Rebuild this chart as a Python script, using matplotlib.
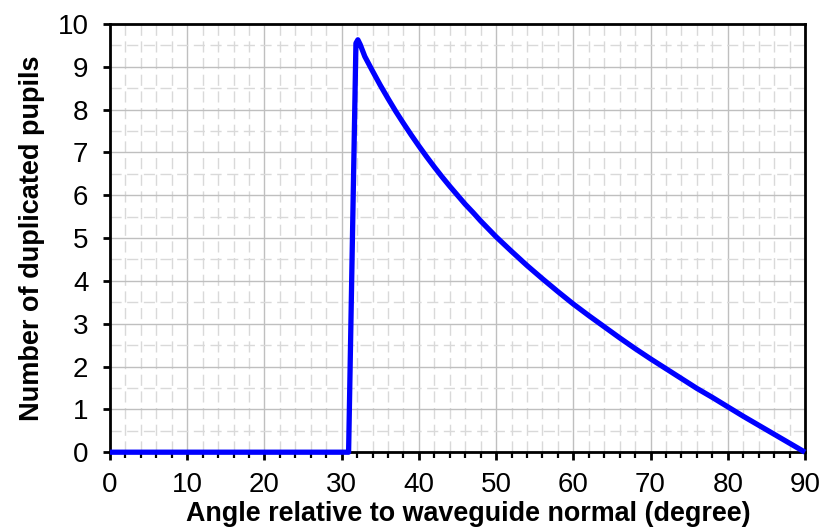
import numpy as np
import matplotlib.pyplot as plt
from matplotlib.ticker import MultipleLocator

# ---------- data ----------
angle = [0, 30.9, 31.85, 32.1, 32.4, 33, 34, 35, 36, 37, 38, 39, 40, 41, 42,
         43, 44, 45, 46, 47, 48, 50, 52, 54, 56, 58, 60, 62, 64, 66, 68, 70,
         72, 74, 76, 78, 80, 82, 84, 86, 88, 90]
pupils = [0, 0, 9.55, 9.63, 9.52, 9.24, 8.90, 8.57, 8.26, 7.96, 7.68, 7.41,
          7.15, 6.90, 6.66, 6.43, 6.21, 6.00, 5.79, 5.60, 5.40, 5.03, 4.69,
          4.36, 4.05, 3.75, 3.46, 3.19, 2.93, 2.67, 2.42, 2.18, 1.95, 1.72,
          1.49, 1.28, 1.06, 0.84, 0.63, 0.42, 0.21, 0]

x_ticks = list(range(0, 91, 10))
y_ticks = list(range(0, 11, 1))

plt.rcParams['font.family'] = ['Liberation Sans', 'DejaVu Sans']

fig = plt.figure(figsize=(8.22, 5.32), dpi=100)
ax = fig.add_axes([0.1338, 0.150, 0.8455, 0.805])

ax.plot(angle, pupils, color='#0000FF', lw=3.8, solid_joinstyle='round',
        solid_capstyle='butt', zorder=5, clip_on=False)

ax.set_xlim(0, 90)
ax.set_ylim(0, 10)
ax.set_xticks(x_ticks)
ax.set_yticks(y_ticks)
ax.xaxis.set_minor_locator(MultipleLocator(2))
ax.yaxis.set_minor_locator(MultipleLocator(0.5))

# ---------- grid ----------
ax.grid(which='major', color='#BFBFBF', lw=1.0, zorder=1)
ax.grid(which='minor', color='#D9D9D9', lw=1.0, linestyle=(0, (8, 4)), zorder=0)
ax.set_axisbelow(True)

# ---------- frame and ticks ----------
for s in ax.spines.values():
    s.set_color('black')
    s.set_linewidth(2.0)

ax.tick_params(axis='both', which='major', direction='out', width=2.0,
               labelsize=20, color='black')
ax.tick_params(axis='x', which='major', length=5.8, pad=8.5)
ax.tick_params(axis='y', which='major', length=5, pad=10.5)
ax.tick_params(axis='x', which='minor', direction='out', length=4, width=1.6)
ax.tick_params(axis='y', which='minor', length=0)

ax.set_xlabel('Angle relative to waveguide normal (degree)', fontsize=19.4,
              fontweight='bold')
ax.xaxis.set_label_coords(0.516, -0.115)
ax.set_ylabel('Number of duplicated pupils', fontsize=19.5,
              fontweight='bold', labelpad=9)

fig.savefig('out.png', dpi=100)
